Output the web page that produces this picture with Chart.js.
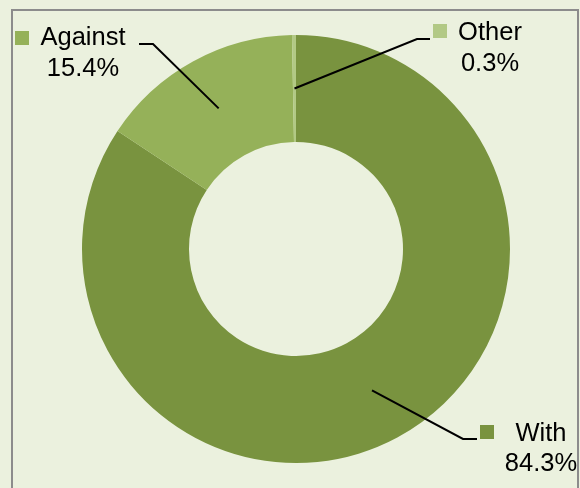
<!DOCTYPE html>
<html>
<head>
<meta charset="utf-8">
<script src="https://cdn.jsdelivr.net/npm/chart.js"></script>
<style>
  html, body { margin: 0; padding: 0; background: #EBF1DE; }
  #wrap { width: 580px; height: 488px; }
</style>
</head>
<body>
<div id="wrap"><canvas id="voteChart" width="580" height="488"></canvas></div>
<script>
// data
const categories = ['With', 'Against', 'Other'];
const shares = [84.3, 15.4, 0.3];
const sliceColors = ['#79933F', '#95B159', '#B2C985'];

// label layout: elbow of leader line, end of horizontal, square and text centre
const labelLayout = [
    { elbow: [463, 439], end: [477, 439], box: [480, 425], textX: 541, line1: 441, line2: 471 },
    { elbow: [153, 44], end: [139, 44], box: [15, 31], textX: 83, line1: 45, line2: 76 },
    { elbow: [417, 39], end: [430, 39], box: [433, 24], textX: 490, line1: 40, line2: 71 }
];

const frame = {
    id: 'frame',
    beforeDraw(chart) {
        const c = chart.ctx;
        c.save();
        c.fillStyle = '#EBF1DE';
        c.fillRect(0, 0, chart.width, chart.height);
        c.strokeStyle = '#8C8C8C';
        c.lineWidth = 2;
        c.strokeRect(12, 10, 566, 490);
        c.restore();
    }
};

const calloutLabels = {
    id: 'calloutLabels',
    afterDraw(chart) {
        const c = chart.ctx;
        const meta = chart.getDatasetMeta(0);
        c.save();
        meta.data.forEach((arc, i) => {
            const p = arc.tooltipPosition();
            const lay = labelLayout[i];
            c.strokeStyle = '#000';
            c.lineWidth = 2;
            c.beginPath();
            c.moveTo(p.x, p.y);
            c.lineTo(lay.elbow[0], lay.elbow[1]);
            c.lineTo(lay.end[0], lay.end[1]);
            c.stroke();

            c.fillStyle = sliceColors[i];
            c.fillRect(lay.box[0], lay.box[1], 14, 14);

            c.fillStyle = '#000';
            c.font = '25.5px "Liberation Sans", Arial, sans-serif';
            c.textAlign = 'center';
            c.textBaseline = 'alphabetic';
            c.fillText(categories[i], lay.textX, lay.line1);
            c.fillText(shares[i].toFixed(1) + '%', lay.textX, lay.line2);
        });
        c.restore();
    }
};

const ctx = document.getElementById('voteChart').getContext('2d');
const voteChart = new Chart(ctx, {
    type: 'doughnut',
    data: {
        labels: categories,
        datasets: [{
            data: shares,
            backgroundColor: sliceColors,
            borderWidth: 0,
            radius: 214,
            cutout: '50%'
        }]
    },
    options: {
        responsive: false,
        animation: false,
        layout: {
            padding: { left: 12, right: 0, top: 10, bottom: 0 }
        },
        plugins: {
            legend: { display: false },
            tooltip: { enabled: false }
        }
    },
    plugins: [frame, calloutLabels]
});
</script>
</body>
</html>
